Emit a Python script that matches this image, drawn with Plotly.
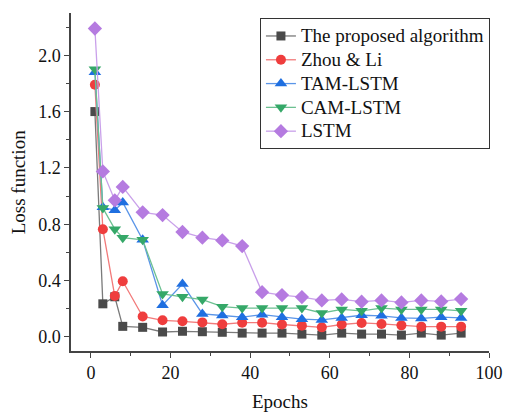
import plotly.graph_objects as go

epochs = [1, 3, 6, 8, 13, 18, 23, 28, 33, 38, 43, 48, 53, 58, 63, 68, 73, 78, 83, 88, 93]

proposed = [1.60, 0.235, 0.285, 0.075, 0.068, 0.035, 0.040, 0.037, 0.033, 0.027, 0.027, 0.027, 0.020, 0.013, 0.027, 0.020, 0.020, 0.013, 0.027, 0.013, 0.027]
zhou_li = [1.79, 0.765, 0.29, 0.395, 0.145, 0.118, 0.111, 0.103, 0.090, 0.101, 0.101, 0.088, 0.080, 0.068, 0.088, 0.099, 0.092, 0.082, 0.073, 0.073, 0.073]
tam_lstm = [1.88, 0.92, 0.90, 0.955, 0.69, 0.225, 0.375, 0.163, 0.152, 0.140, 0.158, 0.140, 0.126, 0.121, 0.135, 0.154, 0.150, 0.135, 0.131, 0.140, 0.135]
cam_lstm = [1.90, 0.915, 0.765, 0.705, 0.69, 0.305, 0.285, 0.265, 0.215, 0.205, 0.205, 0.205, 0.205, 0.170, 0.195, 0.185, 0.205, 0.195, 0.195, 0.195, 0.185]
lstm = [2.19, 1.175, 0.97, 1.065, 0.885, 0.865, 0.745, 0.705, 0.685, 0.645, 0.318, 0.297, 0.283, 0.259, 0.266, 0.250, 0.259, 0.245, 0.259, 0.252, 0.269]

names = ["The proposed algorithm", "Zhou & Li", "TAM-LSTM", "CAM-LSTM", "LSTM"]
series = [proposed, zhou_li, tam_lstm, cam_lstm, lstm]
marker_colors = ["#4a4a4a", "#ef3d3d", "#1f6fe0", "#35a868", "#b57be0"]
line_colors = ["#7a7a7a", "#f27a7a", "#5a95e8", "#6cc091", "#c9a0ea"]
symbols = ["square", "circle", "triangle-up", "triangle-down", "diamond"]
sizes = [9, 10, 11, 11, 11]

FONT = "Liberation Serif"

fig = go.Figure()
for n, s, mc, lc, sym, sz in zip(names, series, marker_colors, line_colors, symbols, sizes):
    fig.add_trace(go.Scatter(
        x=epochs, y=s, mode="lines+markers",
        name='<span style="font-size:19px">' + n.replace("&", "&amp;") + "</span>",
        line=dict(color=lc, width=1.3),
        marker=dict(symbol=sym, size=sz, color=mc, line=dict(width=0)),
    ))

axis_common = dict(
    showgrid=False, zeroline=False, showline=True, linecolor="#444444", linewidth=1.5,
    ticks="outside", ticklen=5, tickwidth=1.2, tickcolor="#444444",
    tickfont=dict(family=FONT, size=18, color="#111111"),
    mirror=False, automargin=False,
)

fig.update_xaxes(
    range=[-5, 100], tickmode="array", tickvals=[0, 20, 40, 60, 80, 100],
    minor=dict(tickmode="array", tickvals=[10, 30, 50, 70, 90], ticks="outside", ticklen=3, tickcolor="#444444"),
    **axis_common,
)
fig.update_yaxes(
    range=[-0.1, 2.3], tickmode="array", tickvals=[0.0, 0.4, 0.8, 1.2, 1.6, 2.0],
    ticktext=["0.0", "0.4", "0.8", "1.2", "1.6", "2.0"],
    minor=dict(tickmode="array", tickvals=[0.2, 0.6, 1.0, 1.4, 1.8, 2.2], ticks="outside", ticklen=3, tickcolor="#444444"),
    **axis_common,
)

fig.add_annotation(text="Epochs", xref="paper", yref="paper", x=0.499, y=-0.148,
                   xanchor="center", yanchor="middle", showarrow=False,
                   font=dict(family=FONT, size=19, color="#111111"))
fig.add_annotation(text="Loss function", xref="paper", yref="paper", x=-0.126, y=0.5,
                   xanchor="center", yanchor="middle", showarrow=False, textangle=-90,
                   font=dict(family=FONT, size=19, color="#111111"))

fig.update_layout(
    width=506, height=414,
    margin=dict(l=71, r=17, t=13, b=63),
    plot_bgcolor="white", paper_bgcolor="white",
    legend=dict(
        x=0.452, y=0.985, xanchor="left", yanchor="top",
        bordercolor="#333333", borderwidth=1, bgcolor="white",
        font=dict(family=FONT, size=16, color="#111111"),
        tracegroupgap=0, itemwidth=30,
    ),
)

fig.write_html("out.html", config={"displayModeBar": False},
               post_script="document.body.style.margin='0';document.body.style.overflow='hidden';")
